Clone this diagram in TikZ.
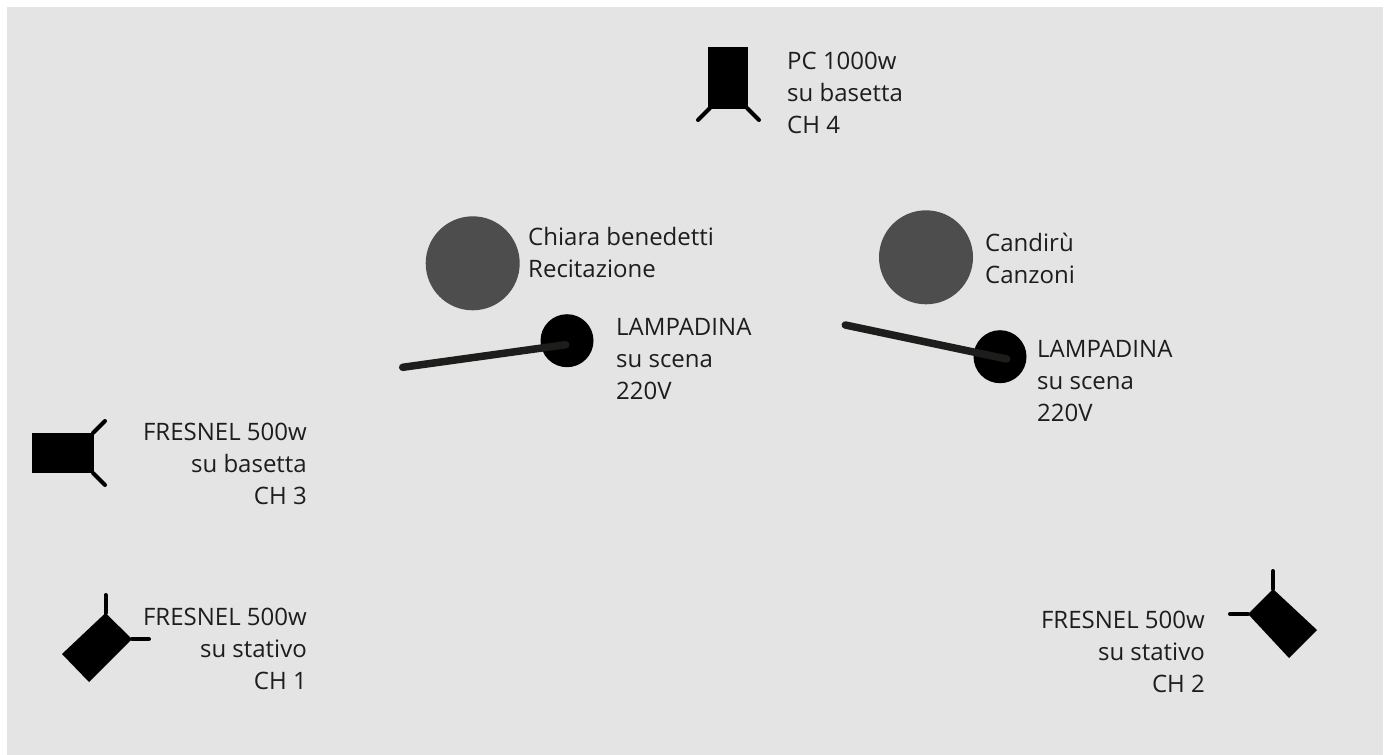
\documentclass[tikz,border=0pt]{standalone}
\usepackage{fontspec}
\setmainfont{Open Sans}
\definecolor{bggrey}{HTML}{E4E4E4}
\definecolor{inkdark}{HTML}{1D1D1B}
\definecolor{persongrey}{HTML}{4D4D4D}
\newcommand{\lblfont}{\fontsize{24}{32}\selectfont}
\tikzset{
  lbl/.style={inner sep=0pt,font=\lblfont,text=inkdark},
  lblL/.style={lbl,align=left,anchor=north west},
  lblR/.style={lbl,align=right,anchor=north east},
  lampbody/.style={fill=black},
  arm/.style={draw=black,line width=4pt,line cap=round},
  person/.style={circle,fill=persongrey,minimum size=94pt,inner sep=0pt},
  bulb/.style={circle,fill=black,minimum size=53pt,inner sep=0pt},
  cable/.style={draw=inkdark,line width=7.5pt,line cap=round}
}
\begin{document}
\begin{tikzpicture}[x=1pt,y=-1pt]
\useasboundingbox (0,0) rectangle (1387,755);
\fill[white] (0,0) rectangle (1387,755);
\fill[bggrey] (7,7) rectangle (1383,755);
% persons
\node[person] (p1) at (472.7,263.3) {};
\node[person] (p2) at (926,257.3) {};
% bulbs and cables
\node[bulb] (b1) at (567,340.7) {};
\node[bulb] (b2) at (1000,356.7) {};
\coordinate (c1a) at (402.7,367.3);
\coordinate (c1b) at (565.7,344.7);
\coordinate (c2a) at (845.3,325);
\coordinate (c2b) at (1006.7,359);
\draw[cable] (c1a) -- (c1b);
\draw[cable] (c2a) -- (c2b);
% CH3
\fill[lampbody] (32,433) rectangle (94,473);
\draw[arm] (93,433) -- (105,421);
\draw[arm] (93,473) -- (105,485);
% CH1
\fill[lampbody] (105.5,613) -- (132,639) -- (89,682) -- (62,654) -- cycle;
\draw[arm] (105.5,613) -- (105.5,595);
\draw[arm] (132,639) -- (149,639);
% CH4
\fill[lampbody] (708,47) rectangle (748,109);
\draw[arm] (710,108) -- (698,120);
\draw[arm] (747,108) -- (759,120);
% CH2
\fill[lampbody] (1273,589) -- (1317,630) -- (1289,658) -- (1248,614) -- cycle;
\draw[arm] (1273,589) -- (1273,571);
\draw[arm] (1248,614) -- (1230,614);
% labels
\node[lblL] (t4) at (787,46.6) {\strut PC 1000w\\su basetta\\CH 4};
\node[lblL] (tp1) at (528,222.6) {\strut Chiara benedetti\\Recitazione};
\node[lblL] (tb1) at (616,312.6) {\strut LAMPADINA\\su scena\\220V};
\node[lblL] (tp2) at (985,228.6) {\strut Candirù\\Canzoni};
\node[lblL] (tb2) at (1037,334.6) {\strut LAMPADINA\\su scena\\220V};
\node[lblR] (t3) at (307,417.6) {\strut FRESNEL 500w\\su basetta\\CH 3};
\node[lblR] (t1) at (307,602.6) {\strut FRESNEL 500w\\su stativo\\CH 1};
\node[lblR] (t2) at (1205,605.6) {\strut FRESNEL 500w\\su stativo\\CH 2};
\end{tikzpicture}
\end{document}
